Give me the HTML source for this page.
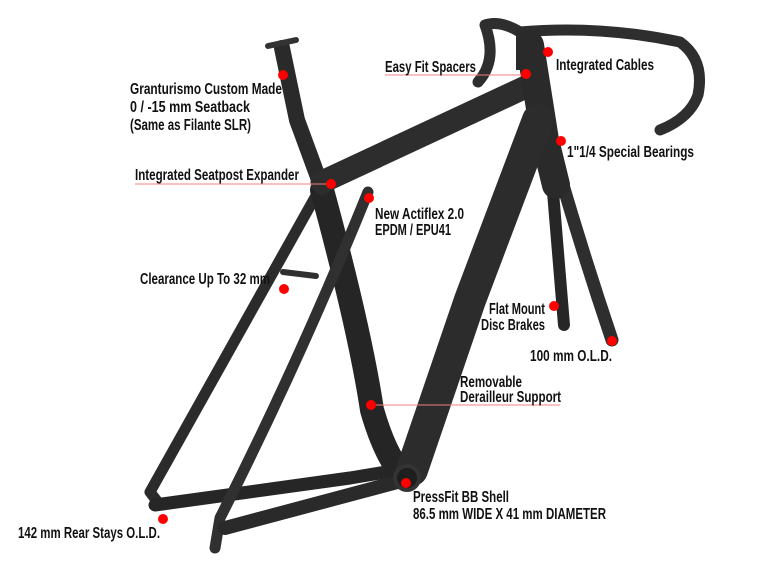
<!DOCTYPE html>
<html><head><meta charset="utf-8"><style>
html,body{margin:0;padding:0;background:#fff}
svg{display:block}
text{font-family:"Liberation Sans Narrow","Liberation Sans",sans-serif;font-weight:bold;font-size:16px;fill:#111}
</style></head><body>
<svg width="762" height="568" viewBox="0 0 762 568">
<g fill="none" stroke-linecap="round" stroke-linejoin="round">
<path d="M318 192 L150 492 L160 505" stroke="#2b2b2b" stroke-width="11"/>
<path d="M155 505 L350 478 L398 470" stroke="#262626" stroke-width="13"/>
<path d="M552 180 Q558 250 564 325" stroke="#262626" stroke-width="12"/>
<path d="M560 175 Q585 260 612 340" stroke="#2e2e2e" stroke-width="13"/>
<path d="M322 190 Q360 330 372 410 Q385 455 402 474" stroke="#252525" stroke-width="24"/>
<path d="M282 48 L297 120 L322 188" stroke="#2a2a2a" stroke-width="16"/>
<path d="M268 46 L296 40" stroke="#333" stroke-width="6"/>
<path d="M322 182 L530 85" stroke="#2d2d2d" stroke-width="23"/>
<path d="M530 45 L545 140 L556 185" stroke="#2a2a2a" stroke-width="28"/>
<path d="M538 120 L470 300 L412 470" stroke="#2c2c2c" stroke-width="32"/>
<path d="M368 192 Q300 360 220 518 L215 548" stroke="#303030" stroke-width="11"/>
<path d="M283 272 L316 276" stroke="#303030" stroke-width="6"/>
<path d="M225 528 L330 500 L405 480" stroke="#2a2a2a" stroke-width="14"/>
<circle cx="407" cy="478" r="12" fill="#1e1e1e" stroke="#333" stroke-width="4"/>
<path d="M520 32 Q500 20 485 25 Q498 60 478 82" stroke="#2e2e2e" stroke-width="11"/>
<path d="M520 32 Q600 25 680 42 Q705 60 698 95 Q690 118 660 130" stroke="#2e2e2e" stroke-width="11"/>
<rect x="516" y="30" width="24" height="40" fill="#2a2a2a" stroke="none"/>
</g>
<g stroke="#f08080" stroke-width="1">
<line x1="385" y1="75" x2="525" y2="75"/>
<line x1="135" y1="184" x2="330" y2="184"/>
<line x1="375" y1="405" x2="560" y2="405"/>
</g>
<g fill="#ff0000">
<circle cx="283" cy="75" r="5"/><circle cx="526" cy="74" r="5"/><circle cx="548" cy="52" r="5"/>
<circle cx="561" cy="141" r="5"/><circle cx="331" cy="184" r="5"/><circle cx="369" cy="198" r="5"/>
<circle cx="284" cy="289" r="5"/><circle cx="371" cy="405" r="5"/><circle cx="406" cy="483" r="5"/>
<circle cx="163" cy="519" r="5"/><circle cx="554" cy="306" r="5"/><circle cx="612" cy="341" r="5"/>
</g>
<text x="130" y="94" textLength="152" lengthAdjust="spacingAndGlyphs">Granturismo Custom Made</text>
<text x="130" y="112" textLength="120" lengthAdjust="spacingAndGlyphs">0 / -15 mm Seatback</text>
<text x="130" y="130" textLength="121" lengthAdjust="spacingAndGlyphs">(Same as Filante SLR)</text>
<text x="385" y="72" textLength="91" lengthAdjust="spacingAndGlyphs">Easy Fit Spacers</text>
<text x="556" y="70" textLength="98" lengthAdjust="spacingAndGlyphs">Integrated Cables</text>
<text x="567" y="157" textLength="127" lengthAdjust="spacingAndGlyphs">1"1/4 Special Bearings</text>
<text x="135" y="180" textLength="164" lengthAdjust="spacingAndGlyphs">Integrated Seatpost Expander</text>
<text x="375" y="219" textLength="89" lengthAdjust="spacingAndGlyphs">New Actiflex 2.0</text>
<text x="375" y="235" textLength="76" lengthAdjust="spacingAndGlyphs">EPDM / EPU41</text>
<text x="140" y="284" textLength="130" lengthAdjust="spacingAndGlyphs">Clearance Up To 32 mm</text>
<text x="489" y="314" textLength="56" lengthAdjust="spacingAndGlyphs">Flat Mount</text>
<text x="481" y="330" textLength="64" lengthAdjust="spacingAndGlyphs">Disc Brakes</text>
<text x="530" y="361" textLength="82" lengthAdjust="spacingAndGlyphs">100 mm O.L.D.</text>
<text x="460" y="387" textLength="62" lengthAdjust="spacingAndGlyphs">Removable</text>
<text x="460" y="402" textLength="101" lengthAdjust="spacingAndGlyphs">Derailleur Support</text>
<text x="413" y="502" textLength="96" lengthAdjust="spacingAndGlyphs">PressFit BB Shell</text>
<text x="413" y="519" textLength="193" lengthAdjust="spacingAndGlyphs">86.5 mm WIDE X 41 mm DIAMETER</text>
<text x="18" y="538" textLength="142" lengthAdjust="spacingAndGlyphs">142 mm Rear Stays O.L.D.</text>
</svg>
</body></html>
